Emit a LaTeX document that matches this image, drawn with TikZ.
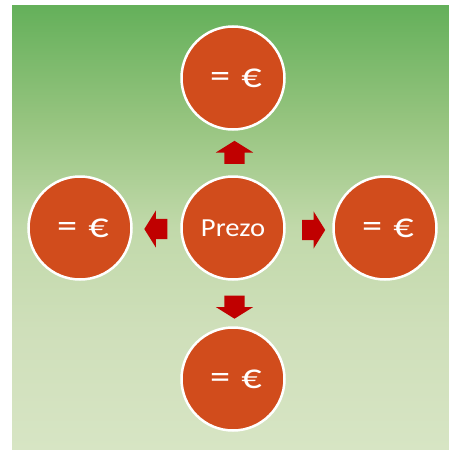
\documentclass[tikz,border=0pt]{standalone}
\usepackage{fontspec}
\setmainfont{Carlito}
\usetikzlibrary{shapes.arrows}

\definecolor{bgtop}{RGB}{100,176,90}
\definecolor{bgup}{RGB}{150,196,127}
\definecolor{bgmid}{RGB}{193,217,170}
\definecolor{bglow}{RGB}{207,223,186}
\definecolor{bgbot}{RGB}{215,229,196}
\definecolor{discfill}{RGB}{209,76,28}
\definecolor{arrowred}{RGB}{192,0,0}
\pgfdeclareverticalshading{slidebg}{100bp}{color(0bp)=(bgbot); color(25bp)=(bgbot); color(38.5bp)=(bglow); color(50bp)=(bgmid); color(62bp)=(bgup); color(75bp)=(bgtop); color(100bp)=(bgtop)}

\newcommand{\eqeuro}{\hspace*{6pt}\raisebox{-5pt}{\scalebox{1.15}[1]{=\hspace{0.28em}€}}}

\tikzset{
  disc/.style={circle, fill=discfill, draw=white, line width=2.5pt, minimum size=103pt, inner sep=0pt, text=white, font=\fontsize{35}{35}\selectfont},
  blockarrow/.style={single arrow, fill=arrowred, draw=none, inner xsep=0pt, inner ysep=10pt, minimum height=23pt, single arrow head extend=8.5pt, single arrow tip angle=116}
}

\begin{document}
\begin{tikzpicture}[x=1pt,y=-1pt]
            \useasboundingbox (0,0) rectangle (449,450);
            \shade[shading=slidebg] (12,5) rectangle (449,450);
            \node[disc, font=\fontsize{26}{26}\selectfont] (price) at (233,228) {\raisebox{-2pt}{\scalebox{1.1}[1]{Prezo}}};
            \node[disc] (up) at (233,78) {\eqeuro};
            \node[disc] (down) at (233,379) {\eqeuro};
            \node[disc] (left) at (80,228) {\eqeuro};
            \node[disc] (right) at (385,228) {\eqeuro};
            \node[blockarrow, rotate=90] (arrup) at (234.5,155.5) {};
            \node[blockarrow, rotate=-90] (arrdown) at (234.5,304) {};
            \node[blockarrow, rotate=180] (arrleft) at (159,229) {};
            \node[blockarrow] (arrright) at (310.5,230) {};
        \end{tikzpicture}
\end{document}
